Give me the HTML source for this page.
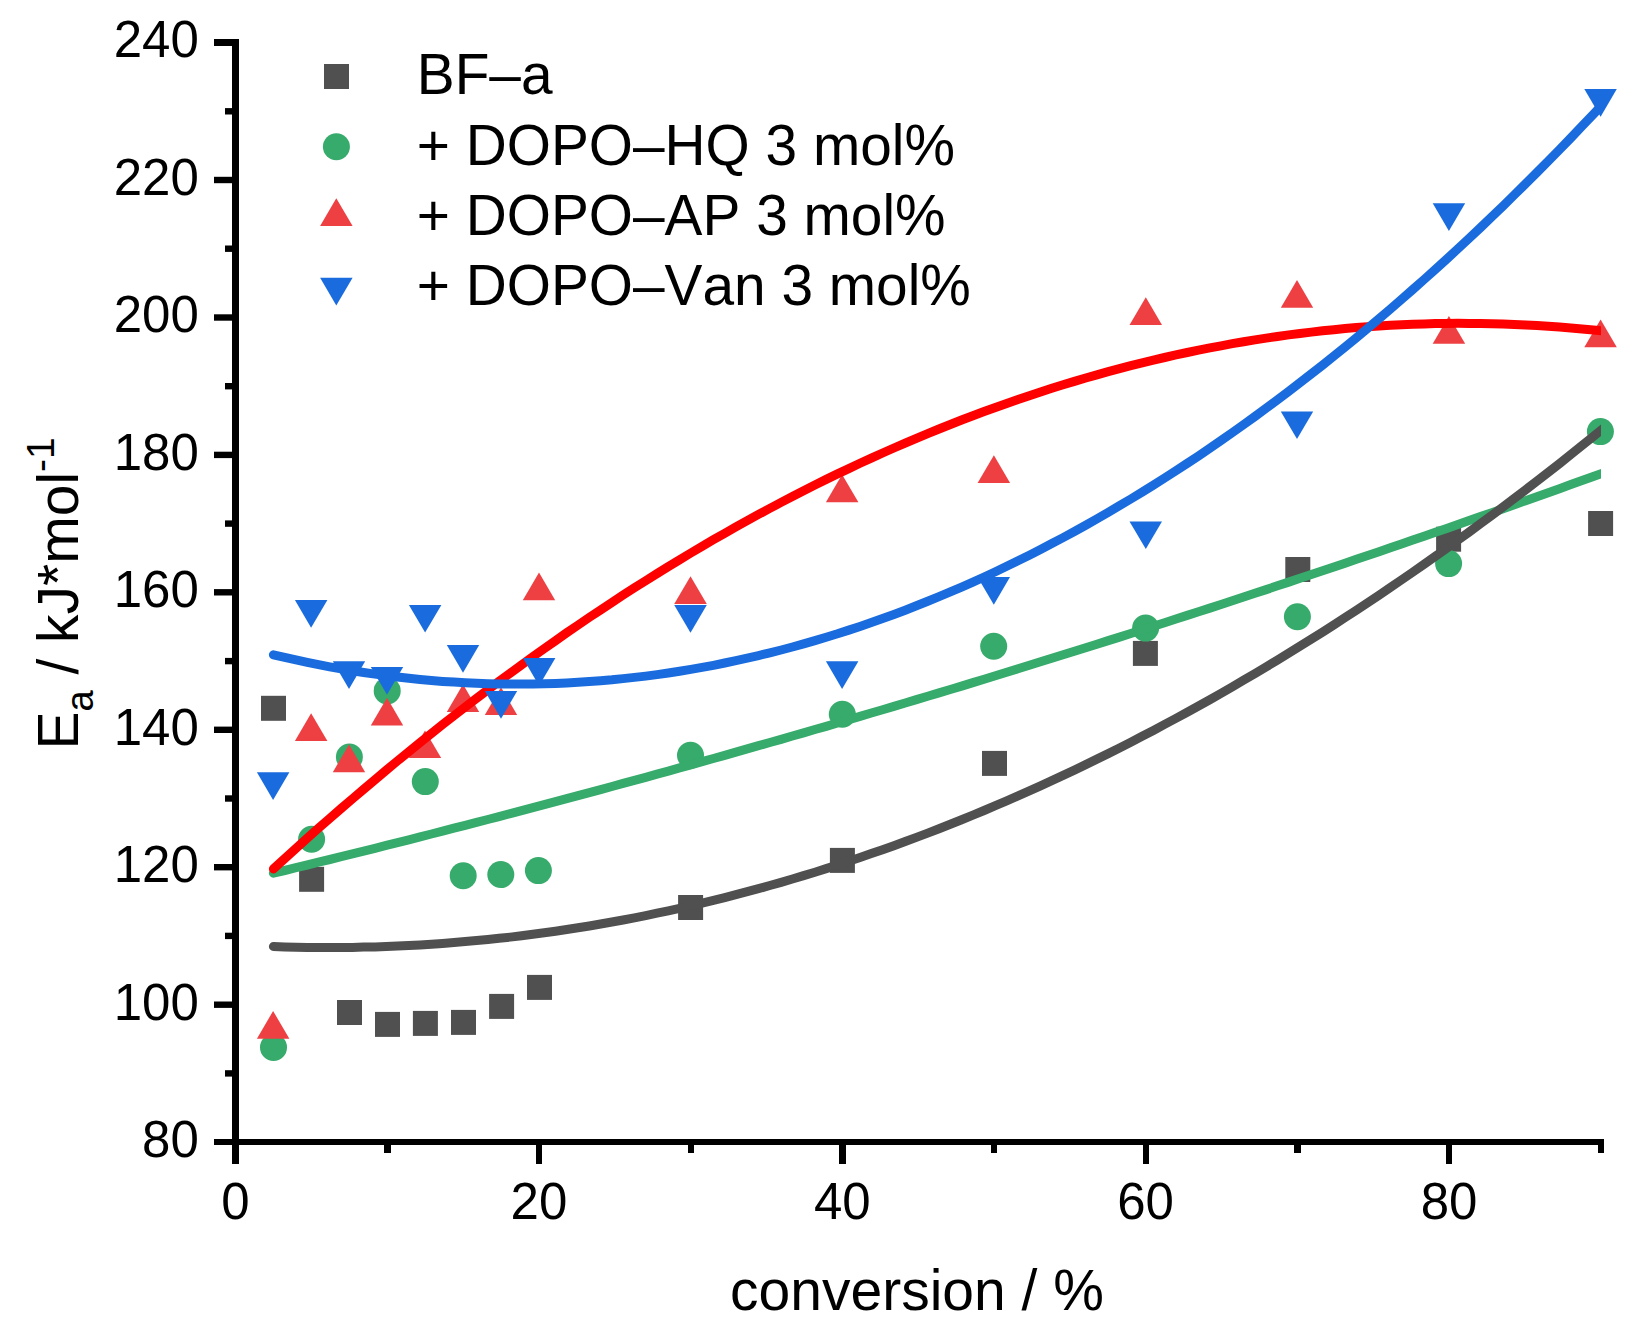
<!DOCTYPE html>
<html lang="en">
<head>
<meta charset="utf-8">
<title>Ea vs conversion</title>
<style>
html,body{margin:0;padding:0;background:#fff;}
body{width:1649px;height:1335px;overflow:hidden;}
svg{display:block;}
</style>
</head>
<body>
<svg width="1649" height="1335" viewBox="0 0 1649 1335" font-family='"Liberation Sans", sans-serif' fill="#000">
<rect x="0" y="0" width="1649" height="1335" fill="#fff"/>
<defs><clipPath id="plot"><rect x="200" y="0" width="1401" height="1335"/></clipPath></defs>
<g shape-rendering="geometricPrecision">
<rect x="261.0" y="695.8" width="25.0" height="25.0" fill="#505050"/>
<rect x="299.1" y="866.8" width="25.0" height="25.0" fill="#505050"/>
<rect x="337.0" y="1000.0" width="25.0" height="25.0" fill="#505050"/>
<rect x="375.0" y="1011.9" width="25.0" height="25.0" fill="#505050"/>
<rect x="412.9" y="1010.9" width="25.0" height="25.0" fill="#505050"/>
<rect x="451.0" y="1009.9" width="25.0" height="25.0" fill="#505050"/>
<rect x="489.1" y="993.9" width="25.0" height="25.0" fill="#505050"/>
<rect x="527.0" y="974.9" width="25.0" height="25.0" fill="#505050"/>
<rect x="678.1" y="895.0" width="25.0" height="25.0" fill="#505050"/>
<rect x="829.9" y="847.9" width="25.0" height="25.0" fill="#505050"/>
<rect x="982.0" y="750.9" width="25.0" height="25.0" fill="#505050"/>
<rect x="1132.9" y="640.9" width="25.0" height="25.0" fill="#505050"/>
<rect x="1285.3" y="557.0" width="25.0" height="25.0" fill="#505050"/>
<rect x="1436.1" y="526.7" width="25.0" height="25.0" fill="#505050"/>
<rect x="1588.1" y="511.0" width="25.0" height="25.0" fill="#505050"/>
<circle cx="273.5" cy="1047.4" r="13.5" fill="#36AB6B"/>
<circle cx="311.6" cy="839.3" r="13.5" fill="#36AB6B"/>
<circle cx="349.4" cy="757.1" r="13.5" fill="#36AB6B"/>
<circle cx="387.2" cy="690.9" r="13.5" fill="#36AB6B"/>
<circle cx="425.3" cy="781.6" r="13.5" fill="#36AB6B"/>
<circle cx="463.2" cy="875.7" r="13.5" fill="#36AB6B"/>
<circle cx="500.8" cy="874.5" r="13.5" fill="#36AB6B"/>
<circle cx="538.4" cy="870.6" r="13.5" fill="#36AB6B"/>
<circle cx="690.5" cy="755.2" r="13.5" fill="#36AB6B"/>
<circle cx="842.3" cy="714.2" r="13.5" fill="#36AB6B"/>
<circle cx="993.7" cy="646.2" r="13.5" fill="#36AB6B"/>
<circle cx="1145.6" cy="628.1" r="13.5" fill="#36AB6B"/>
<circle cx="1297.4" cy="616.7" r="13.5" fill="#36AB6B"/>
<circle cx="1448.6" cy="563.6" r="13.5" fill="#36AB6B"/>
<circle cx="1600.4" cy="431.6" r="13.5" fill="#36AB6B"/>
<polyline clip-path="url(#plot)" fill="none" stroke="#36AB6B" stroke-width="9" stroke-linecap="round" stroke-linejoin="round" points="273.4,873.2 284.7,870.5 296.0,867.7 307.3,865.0 318.5,862.2 329.8,859.5 341.1,856.7 352.4,853.9 363.7,851.1 375.0,848.3 386.2,845.4 397.5,842.6 408.8,839.8 420.1,836.9 431.4,834.0 442.6,831.1 453.9,828.2 465.2,825.3 476.5,822.4 487.8,819.5 499.0,816.6 510.3,813.6 521.6,810.6 532.9,807.7 544.2,804.7 555.5,801.7 566.7,798.7 578.0,795.6 589.3,792.6 600.6,789.6 611.9,786.5 623.1,783.4 634.4,780.4 645.7,777.3 657.0,774.2 668.3,771.1 679.5,767.9 690.8,764.8 702.1,761.6 713.4,758.5 724.7,755.3 735.9,752.1 747.2,748.9 758.5,745.7 769.8,742.5 781.1,739.3 792.4,736.0 803.6,732.8 814.9,729.5 826.2,726.3 837.5,723.0 848.8,719.7 860.0,716.4 871.3,713.0 882.6,709.7 893.9,706.4 905.2,703.0 916.4,699.6 927.7,696.3 939.0,692.9 950.3,689.5 961.6,686.1 972.9,682.6 984.1,679.2 995.4,675.8 1006.7,672.3 1018.0,668.8 1029.3,665.3 1040.5,661.8 1051.8,658.3 1063.1,654.8 1074.4,651.3 1085.7,647.8 1096.9,644.2 1108.2,640.6 1119.5,637.1 1130.8,633.5 1142.1,629.9 1153.4,626.3 1164.6,622.7 1175.9,619.0 1187.2,615.4 1198.5,611.7 1209.8,608.1 1221.0,604.4 1232.3,600.7 1243.6,597.0 1254.9,593.3 1266.2,589.6 1277.4,585.8 1288.7,582.1 1300.0,578.3 1311.3,574.5 1322.6,570.8 1333.9,567.0 1345.1,563.2 1356.4,559.3 1367.7,555.5 1379.0,551.7 1390.3,547.8 1401.5,544.0 1412.8,540.1 1424.1,536.2 1435.4,532.3 1446.7,528.4 1457.9,524.5 1469.2,520.5 1480.5,516.6 1491.8,512.7 1503.1,508.7 1514.3,504.7 1525.6,500.7 1536.9,496.7 1548.2,492.7 1559.5,488.7 1570.8,484.6 1582.0,480.6 1593.3,476.5 1604.6,472.5 1615.9,468.4"/>
<polyline clip-path="url(#plot)" fill="none" stroke="#505050" stroke-width="9" stroke-linecap="round" stroke-linejoin="round" points="273.4,946.5 284.7,946.9 296.0,947.2 307.3,947.4 318.5,947.5 329.8,947.5 341.1,947.5 352.4,947.4 363.7,947.1 375.0,946.9 386.2,946.5 397.5,946.0 408.8,945.5 420.1,944.9 431.4,944.2 442.6,943.4 453.9,942.6 465.2,941.6 476.5,940.6 487.8,939.5 499.0,938.3 510.3,937.1 521.6,935.7 532.9,934.3 544.2,932.8 555.5,931.2 566.7,929.5 578.0,927.8 589.3,926.0 600.6,924.0 611.9,922.0 623.1,920.0 634.4,917.8 645.7,915.6 657.0,913.2 668.3,910.8 679.5,908.4 690.8,905.8 702.1,903.1 713.4,900.4 724.7,897.6 735.9,894.7 747.2,891.7 758.5,888.7 769.8,885.5 781.1,882.3 792.4,879.0 803.6,875.6 814.9,872.2 826.2,868.6 837.5,865.0 848.8,861.3 860.0,857.5 871.3,853.6 882.6,849.7 893.9,845.7 905.2,841.6 916.4,837.4 927.7,833.1 939.0,828.7 950.3,824.3 961.6,819.8 972.9,815.2 984.1,810.5 995.4,805.7 1006.7,800.9 1018.0,795.9 1029.3,790.9 1040.5,785.8 1051.8,780.7 1063.1,775.4 1074.4,770.1 1085.7,764.6 1096.9,759.1 1108.2,753.6 1119.5,747.9 1130.8,742.2 1142.1,736.3 1153.4,730.4 1164.6,724.4 1175.9,718.4 1187.2,712.2 1198.5,706.0 1209.8,699.7 1221.0,693.3 1232.3,686.8 1243.6,680.2 1254.9,673.6 1266.2,666.9 1277.4,660.1 1288.7,653.2 1300.0,646.2 1311.3,639.2 1322.6,632.1 1333.9,624.9 1345.1,617.6 1356.4,610.2 1367.7,602.7 1379.0,595.2 1390.3,587.6 1401.5,579.9 1412.8,572.1 1424.1,564.2 1435.4,556.3 1446.7,548.3 1457.9,540.2 1469.2,532.0 1480.5,523.7 1491.8,515.4 1503.1,506.9 1514.3,498.4 1525.6,489.8 1536.9,481.2 1548.2,472.4 1559.5,463.6 1570.8,454.6 1582.0,445.6 1593.3,436.5 1604.6,427.4 1615.9,418.1"/>
<polygon points="273.1,1011.0 289.4,1038.7 256.9,1038.7" fill="#EE4043"/>
<polygon points="311.1,713.3 327.4,741.0 294.9,741.0" fill="#EE4043"/>
<polygon points="349.0,744.5 365.2,772.2 332.8,772.2" fill="#EE4043"/>
<polygon points="387.0,697.7 403.2,725.4 370.8,725.4" fill="#EE4043"/>
<polygon points="425.0,730.4 441.2,758.1 408.8,758.1" fill="#EE4043"/>
<polygon points="463.0,684.3 479.2,712.0 446.8,712.0" fill="#EE4043"/>
<polygon points="501.0,687.3 517.2,715.0 484.8,715.0" fill="#EE4043"/>
<polygon points="539.0,572.5 555.2,600.2 522.8,600.2" fill="#EE4043"/>
<polygon points="690.5,576.2 706.8,603.9 674.2,603.9" fill="#EE4043"/>
<polygon points="842.1,474.5 858.4,502.2 825.9,502.2" fill="#EE4043"/>
<polygon points="993.9,455.2 1010.1,482.9 977.6,482.9" fill="#EE4043"/>
<polygon points="1145.8,297.2 1162.0,324.9 1129.5,324.9" fill="#EE4043"/>
<polygon points="1297.0,280.1 1313.2,307.8 1280.8,307.8" fill="#EE4043"/>
<polygon points="1448.9,316.0 1465.2,343.7 1432.7,343.7" fill="#EE4043"/>
<polygon points="1600.6,319.5 1616.8,347.2 1584.3,347.2" fill="#EE4043"/>
<polyline clip-path="url(#plot)" fill="none" stroke="#FF0000" stroke-width="9" stroke-linecap="round" stroke-linejoin="round" points="273.4,868.9 284.7,858.6 296.0,848.4 307.3,838.2 318.5,828.2 329.8,818.3 341.1,808.5 352.4,798.8 363.7,789.2 375.0,779.7 386.2,770.2 397.5,760.9 408.8,751.7 420.1,742.6 431.4,733.5 442.6,724.6 453.9,715.8 465.2,707.0 476.5,698.4 487.8,689.9 499.0,681.4 510.3,673.1 521.6,664.8 532.9,656.7 544.2,648.6 555.5,640.7 566.7,632.8 578.0,625.1 589.3,617.4 600.6,609.9 611.9,602.4 623.1,595.1 634.4,587.8 645.7,580.7 657.0,573.6 668.3,566.6 679.5,559.8 690.8,553.0 702.1,546.3 713.4,539.7 724.7,533.3 735.9,526.9 747.2,520.6 758.5,514.4 769.8,508.4 781.1,502.4 792.4,496.5 803.6,490.7 814.9,485.0 826.2,479.4 837.5,473.9 848.8,468.6 860.0,463.3 871.3,458.1 882.6,453.0 893.9,448.0 905.2,443.1 916.4,438.3 927.7,433.6 939.0,429.0 950.3,424.5 961.6,420.0 972.9,415.7 984.1,411.5 995.4,407.4 1006.7,403.4 1018.0,399.5 1029.3,395.7 1040.5,391.9 1051.8,388.3 1063.1,384.8 1074.4,381.4 1085.7,378.0 1096.9,374.8 1108.2,371.7 1119.5,368.6 1130.8,365.7 1142.1,362.9 1153.4,360.1 1164.6,357.5 1175.9,354.9 1187.2,352.5 1198.5,350.2 1209.8,347.9 1221.0,345.8 1232.3,343.7 1243.6,341.8 1254.9,339.9 1266.2,338.1 1277.4,336.5 1288.7,334.9 1300.0,333.5 1311.3,332.1 1322.6,330.8 1333.9,329.7 1345.1,328.6 1356.4,327.6 1367.7,326.8 1379.0,326.0 1390.3,325.3 1401.5,324.8 1412.8,324.3 1424.1,323.9 1435.4,323.6 1446.7,323.4 1457.9,323.3 1469.2,323.4 1480.5,323.5 1491.8,323.7 1503.1,324.0 1514.3,324.4 1525.6,324.9 1536.9,325.5 1548.2,326.2 1559.5,327.0 1570.8,327.9 1582.0,328.9 1593.3,330.0 1604.6,331.2 1615.9,332.5"/>
<polygon points="256.9,772.2 289.4,772.2 273.1,799.9" fill="#1A6CDE"/>
<polygon points="294.9,600.0 327.4,600.0 311.1,627.7" fill="#1A6CDE"/>
<polygon points="332.8,661.2 365.2,661.2 349.0,688.9" fill="#1A6CDE"/>
<polygon points="370.8,667.0 403.2,667.0 387.0,694.7" fill="#1A6CDE"/>
<polygon points="408.9,604.9 441.4,604.9 425.1,632.6" fill="#1A6CDE"/>
<polygon points="446.8,645.0 479.2,645.0 463.0,672.7" fill="#1A6CDE"/>
<polygon points="484.8,691.1 517.2,691.1 501.0,718.8" fill="#1A6CDE"/>
<polygon points="522.9,658.0 555.4,658.0 539.1,685.7" fill="#1A6CDE"/>
<polygon points="674.2,605.0 706.8,605.0 690.5,632.7" fill="#1A6CDE"/>
<polygon points="825.9,661.2 858.4,661.2 842.1,688.9" fill="#1A6CDE"/>
<polygon points="977.5,577.1 1010.0,577.1 993.8,604.8" fill="#1A6CDE"/>
<polygon points="1129.5,521.4 1162.0,521.4 1145.8,549.1" fill="#1A6CDE"/>
<polygon points="1280.8,411.4 1313.2,411.4 1297.0,439.1" fill="#1A6CDE"/>
<polygon points="1432.7,203.3 1465.2,203.3 1448.9,231.0" fill="#1A6CDE"/>
<polygon points="1584.3,89.1 1616.8,89.1 1600.6,116.8" fill="#1A6CDE"/>
<polyline clip-path="url(#plot)" fill="none" stroke="#1A6CDE" stroke-width="9" stroke-linecap="round" stroke-linejoin="round" points="273.4,654.8 284.7,657.4 296.0,659.9 307.3,662.3 318.5,664.6 329.8,666.8 341.1,668.8 352.4,670.7 363.7,672.5 375.0,674.1 386.2,675.6 397.5,677.0 408.8,678.3 420.1,679.4 431.4,680.5 442.6,681.4 453.9,682.1 465.2,682.8 476.5,683.3 487.8,683.7 499.0,684.0 510.3,684.1 521.6,684.1 532.9,684.0 544.2,683.8 555.5,683.4 566.7,682.9 578.0,682.3 589.3,681.6 600.6,680.7 611.9,679.8 623.1,678.6 634.4,677.4 645.7,676.1 657.0,674.6 668.3,673.0 679.5,671.2 690.8,669.4 702.1,667.4 713.4,665.3 724.7,663.0 735.9,660.7 747.2,658.2 758.5,655.6 769.8,652.8 781.1,650.0 792.4,647.0 803.6,643.8 814.9,640.6 826.2,637.2 837.5,633.8 848.8,630.1 860.0,626.4 871.3,622.5 882.6,618.5 893.9,614.4 905.2,610.2 916.4,605.8 927.7,601.3 939.0,596.7 950.3,591.9 961.6,587.1 972.9,582.1 984.1,577.0 995.4,571.7 1006.7,566.3 1018.0,560.8 1029.3,555.2 1040.5,549.5 1051.8,543.6 1063.1,537.6 1074.4,531.5 1085.7,525.2 1096.9,518.9 1108.2,512.4 1119.5,505.7 1130.8,499.0 1142.1,492.1 1153.4,485.1 1164.6,478.0 1175.9,470.7 1187.2,463.4 1198.5,455.9 1209.8,448.2 1221.0,440.5 1232.3,432.6 1243.6,424.6 1254.9,416.5 1266.2,408.2 1277.4,399.8 1288.7,391.3 1300.0,382.7 1311.3,373.9 1322.6,365.1 1333.9,356.0 1345.1,346.9 1356.4,337.7 1367.7,328.3 1379.0,318.8 1390.3,309.1 1401.5,299.4 1412.8,289.5 1424.1,279.5 1435.4,269.4 1446.7,259.1 1457.9,248.7 1469.2,238.2 1480.5,227.6 1491.8,216.8 1503.1,205.9 1514.3,194.9 1525.6,183.8 1536.9,172.5 1548.2,161.1 1559.5,149.6 1570.8,138.0 1582.0,126.2 1593.3,114.3 1604.6,102.3 1615.9,90.2"/>
</g>
<g fill="#000" stroke="none">
<rect x="232" y="39" width="7" height="1106"/>
<rect x="214" y="1139" width="1390" height="6"/>
<rect x="225" y="1070.2" width="8" height="6.4"/>
<rect x="214" y="1001.5" width="19" height="6.4"/>
<rect x="225" y="932.7" width="8" height="6.4"/>
<rect x="214" y="864.0" width="19" height="6.4"/>
<rect x="225" y="795.3" width="8" height="6.4"/>
<rect x="214" y="726.6" width="19" height="6.4"/>
<rect x="225" y="657.9" width="8" height="6.4"/>
<rect x="214" y="589.1" width="19" height="6.4"/>
<rect x="225" y="520.4" width="8" height="6.4"/>
<rect x="214" y="451.7" width="19" height="6.4"/>
<rect x="225" y="383.0" width="8" height="6.4"/>
<rect x="214" y="314.3" width="19" height="6.4"/>
<rect x="225" y="245.5" width="8" height="6.4"/>
<rect x="214" y="176.8" width="19" height="6.4"/>
<rect x="225" y="108.1" width="8" height="6.4"/>
<rect x="214" y="39.0" width="19" height="7"/>
<rect x="232" y="1142" width="7" height="22"/>
<rect x="384" y="1142" width="7" height="11"/>
<rect x="536" y="1142" width="6" height="22"/>
<rect x="688" y="1142" width="6" height="11"/>
<rect x="839" y="1142" width="7" height="22"/>
<rect x="991" y="1142" width="6" height="11"/>
<rect x="1143" y="1142" width="6" height="22"/>
<rect x="1294" y="1142" width="7" height="11"/>
<rect x="1446" y="1142" width="6" height="22"/>
<rect x="1598" y="1142" width="6" height="11"/>
</g>
<g font-size="51" text-anchor="end">
<text x="198.8" y="1156.9">80</text>
<text x="198.8" y="1019.5">100</text>
<text x="198.8" y="882.0">120</text>
<text x="198.8" y="744.6">140</text>
<text x="198.8" y="607.1">160</text>
<text x="198.8" y="469.7">180</text>
<text x="198.8" y="332.3">200</text>
<text x="198.8" y="194.8">220</text>
<text x="198.8" y="57.4">240</text>
</g>
<g font-size="51" text-anchor="middle">
<text x="235.5" y="1218.6">0</text>
<text x="538.9" y="1218.6">20</text>
<text x="842.3" y="1218.6">40</text>
<text x="1145.6" y="1218.6">60</text>
<text x="1449.0" y="1218.6">80</text>
</g>
<text x="917" y="1310" font-size="57" text-anchor="middle">conversion / %</text>
<text transform="translate(78.2,749.6) rotate(-90)" font-size="57">E<tspan font-size="38" dy="15">a</tspan><tspan dy="-15"> / kJ*mol</tspan><tspan font-size="39" dy="-24.4">-1</tspan></text>
<rect x="324.0" y="64.0" width="25.0" height="25.0" fill="#505050"/>
<circle cx="336.4" cy="146.7" r="13.5" fill="#36AB6B"/>
<polygon points="336.3,198.3 352.6,226.0 320.1,226.0" fill="#EE4043"/>
<polygon points="320.1,277.7 352.6,277.7 336.3,305.4" fill="#1A6CDE"/>
<g font-size="56.8" style="font-kerning:none">
<text x="416.8" y="94.4">BF–a</text>
<text x="416.8" y="164.7">+ DOPO–HQ 3 mol%</text>
<text x="416.8" y="235.0">+ DOPO–AP 3 mol%</text>
<text x="416.8" y="305.3">+ DOPO–Van 3 mol%</text>
</g>
</svg>
</body>
</html>
